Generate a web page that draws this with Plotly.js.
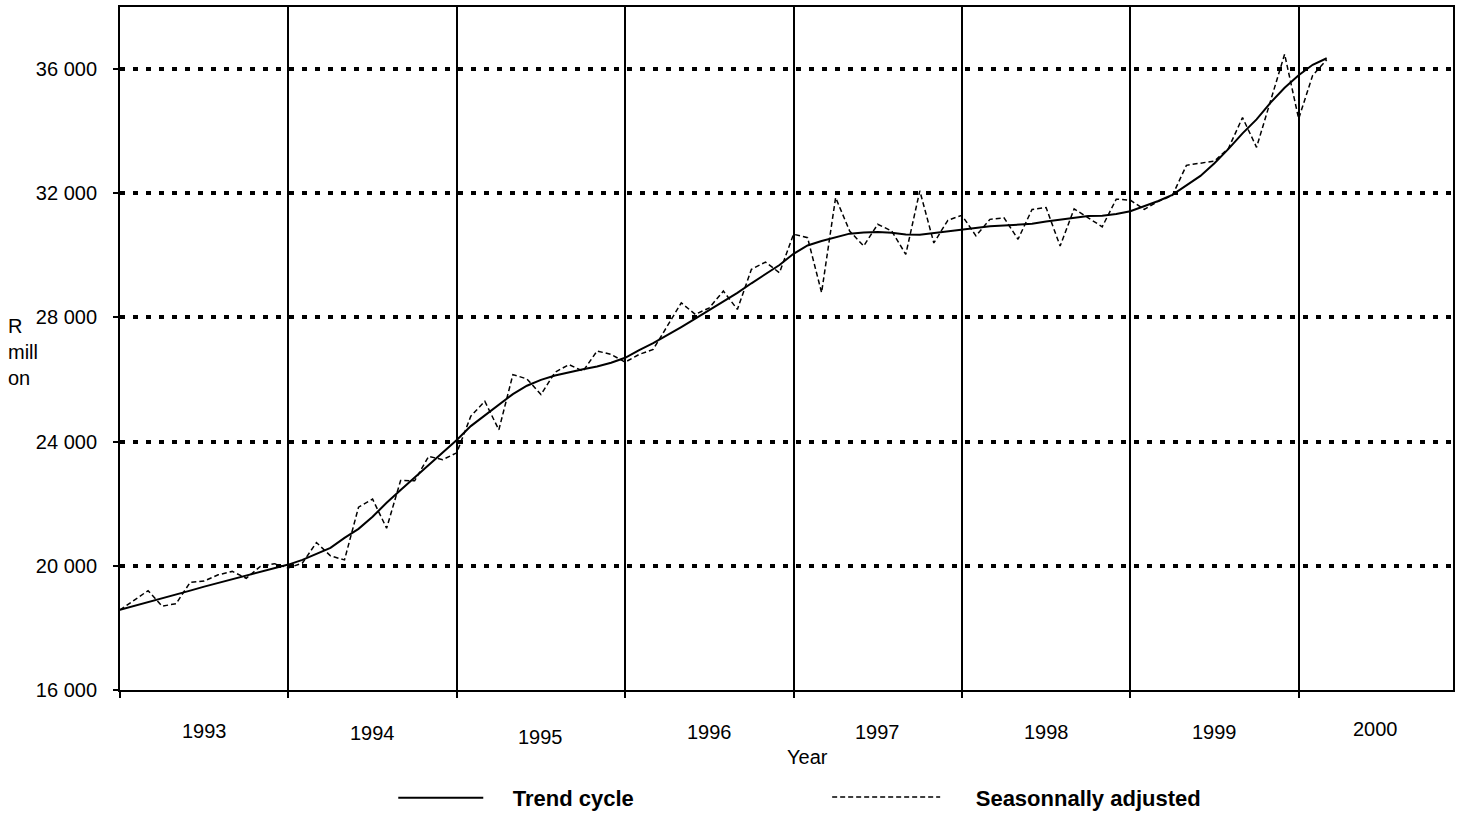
<!DOCTYPE html>
<html>
<head>
<meta charset="utf-8">
<script src="https://cdn.plot.ly/plotly-3.0.1.min.js"></script>
<style>
html,body{margin:0;padding:0;background:#fff;}
#chart{width:1462px;height:818px;}
</style>
</head>
<body>
<div id="chart"></div>
<script>
// Month index: 0 = January 1993
const months = Array.from({length: 87}, (_, i) => i);

const trendCycle = [
  18580, 18700, 18830, 18950, 19080, 19200, 19330, 19450, 19580, 19700, 19820, 19930,
  20040, 20190, 20390, 20580, 20900, 21190, 21580, 22030, 22440, 22840, 23240, 23650,
  24050, 24500, 24850, 25200, 25530, 25800, 25990, 26130, 26240, 26330, 26420, 26540,
  26700, 26950, 27170, 27420, 27690, 27960, 28230, 28500, 28790, 29100, 29400, 29690,
  30050, 30320, 30460, 30590, 30700, 30740, 30750, 30730, 30670, 30665, 30720, 30780,
  30840, 30890, 30940, 30960, 30980, 31020, 31090, 31150, 31220, 31270, 31280, 31330,
  31420, 31580, 31750, 31950, 32250, 32560, 32970, 33430, 33930, 34380, 34920, 35400,
  35800, 36140, 36350
];

const seasonallyAdjusted = [
  18580, 18900, 19200, 18700, 18780, 19470, 19510, 19710, 19820, 19600, 19980, 20070,
  19930, 20090, 20750, 20320, 20190, 21890, 22150, 21210, 22750, 22740, 23525, 23420,
  23640, 24820, 25300, 24380, 26160, 26020, 25515, 26235, 26480, 26270, 26920, 26810,
  26560, 26810, 26970, 27720, 28470, 28100, 28310, 28850, 28260, 29550, 29785, 29440,
  30680, 30570, 28800, 31860, 30785, 30300, 31000, 30785, 30030, 32080, 30400, 31130,
  31290, 30630, 31160, 31210, 30520, 31480, 31540, 30300, 31500, 31210, 30920, 31810,
  31780, 31480, 31740, 31930, 32900, 32970, 33040, 33450, 34440, 33480, 35000, 36480,
  34400, 35800, 36300
];

const yearLabels = ['1993', '1994', '1995', '1996', '1997', '1998', '1999', '2000'];
const yearBoundaries = [0, 12, 24, 36, 48, 60, 72, 84];
const yTickVals = [16000, 20000, 24000, 28000, 32000, 36000];
const yTickText = ['16 000', '20 000', '24 000', '28 000', '32 000', '36 000'];

const seriesNames = ['Trend cycle', 'Seasonnally adjusted'];

const FONT = 'Liberation Sans, Arial, sans-serif';
const PAD1 = '\u00a0\u00a0\u00a0\u00a0';
const PAD2 = '\u00a0\u00a0\u00a0\u00a0\u00a0';

const traces = [
  {
    x: months, y: trendCycle, type: 'scatter', mode: 'lines',
    name: PAD1 + seriesNames[0], legend: 'legend',
    line: {color: '#000', width: 2}
  },
  {
    x: months, y: seasonallyAdjusted, type: 'scatter', mode: 'lines',
    name: PAD2 + seriesNames[1], legend: 'legend2',
    line: {color: '#000', width: 1.5, dash: '5px,3px'}
  }
];

const X0 = 0, X1 = 95;
const yearCentres = yearBoundaries.map((b, i) => {
  const end = i < yearBoundaries.length - 1 ? yearBoundaries[i + 1] : X1;
  return (b + end) / 2;
});
const yearShift = [-41, -43, -47, -42, -42, -42, -42, -39];

const annotations = yearLabels.map((t, i) => ({
  text: t, xref: 'x', yref: 'paper', x: yearCentres[i], y: 0,
  xanchor: 'center', yanchor: 'middle', yshift: yearShift[i],
  showarrow: false, font: {family: FONT, size: 20, color: '#000'}
}));

annotations.push({
  text: 'Year', xref: 'paper', yref: 'paper', x: 0.516, y: 0,
  xanchor: 'center', yanchor: 'middle', yshift: -67,
  showarrow: false, font: {family: FONT, size: 20, color: '#000'}
});
annotations.push({
  text: 'R<br>mill<br>on', xref: 'paper', yref: 'paper', x: -0.0855, y: 0.4949,
  xanchor: 'left', yanchor: 'middle', align: 'left',
  showarrow: false, font: {family: FONT, size: 20, color: '#000'}
});

const legendFont = {family: FONT, size: 22, color: '#000', weight: 'bold'};

const layout = {
  width: 1462, height: 818,
  margin: {l: 120, r: 9, t: 7, b: 128, autoexpand: false},
  paper_bgcolor: '#fff', plot_bgcolor: '#fff',
  showlegend: true,
  xaxis: {
    range: [X0, X1], tickmode: 'array', tickvals: yearBoundaries,
    showticklabels: false, ticks: 'outside', ticklen: 6, tickwidth: 2, tickcolor: '#000',
    showgrid: true, gridcolor: '#000', gridwidth: 2,
    showline: true, linecolor: '#000', linewidth: 2, mirror: true,
    zeroline: false, fixedrange: true
  },
  yaxis: {
    range: [16000, 38000], tickmode: 'array', tickvals: yTickVals, ticktext: yTickText,
    ticks: 'outside', ticklen: 5, tickwidth: 2, tickcolor: '#000', ticklabelstandoff: 12,
    tickfont: {family: FONT, size: 20, color: '#000'},
    showgrid: true, gridcolor: '#000', gridwidth: 4, griddash: '5px,8px',
    showline: true, linecolor: '#000', linewidth: 2, mirror: true,
    zeroline: false, fixedrange: true
  },
  legend: {
    x: 0.205, xanchor: 'left', y: -0.158, yanchor: 'middle',
    orientation: 'h', itemwidth: 85, bgcolor: 'rgba(0,0,0,0)', borderwidth: 0,
    font: legendFont
  },
  legend2: {
    x: 0.5305, xanchor: 'left', y: -0.157, yanchor: 'middle',
    orientation: 'h', itemwidth: 108, bgcolor: 'rgba(0,0,0,0)', borderwidth: 0,
    font: legendFont
  },
  annotations: annotations
};

Plotly.newPlot('chart', traces, layout, {displayModeBar: false, staticPlot: true});
</script>
</body>
</html>
